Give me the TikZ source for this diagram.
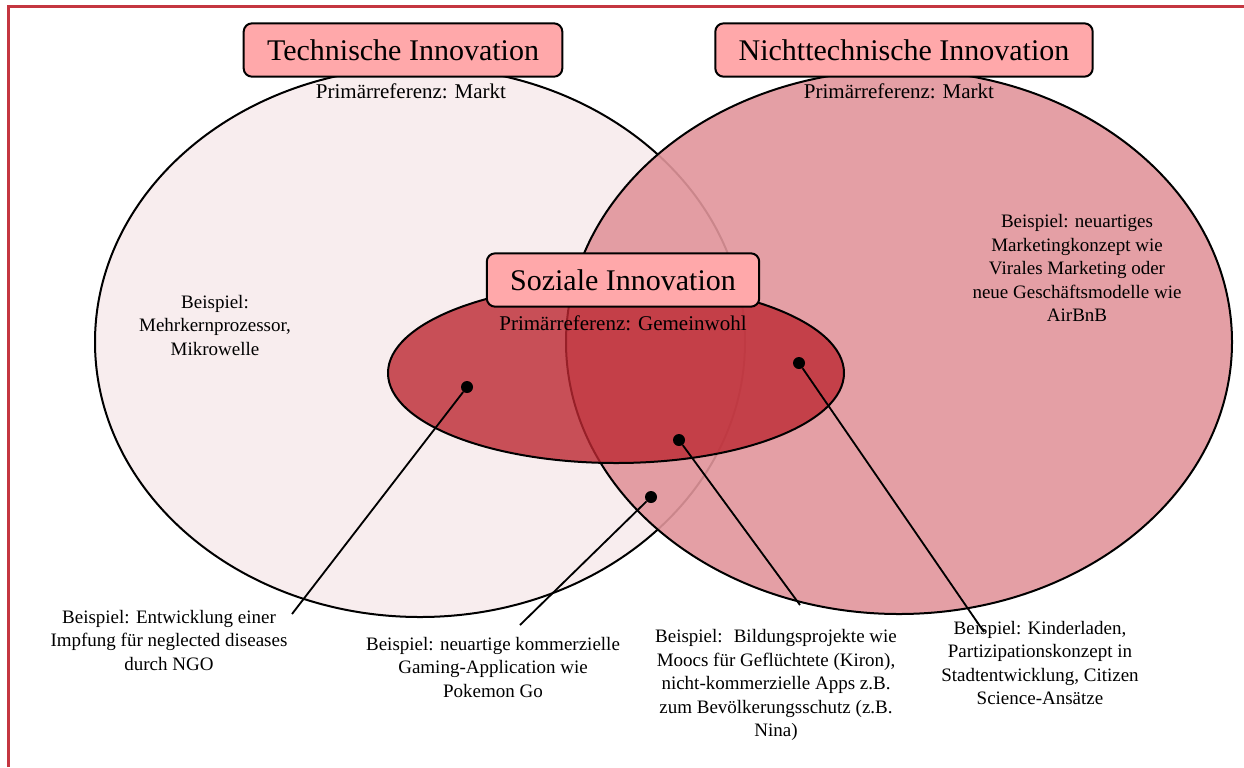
\documentclass[tikz,border=0pt]{standalone}
\usepackage{fontspec}
\setmainfont{Liberation Serif}
\usetikzlibrary{positioning}
\definecolor{framered}{RGB}{196,54,64}
\definecolor{boxpink}{RGB}{255,168,170}
\definecolor{techfill}{RGB}{248,237,238}
\definecolor{nontechfill}{RGB}{225,149,155}
\definecolor{socialfill}{RGB}{189,40,50}

\begin{document}
\begin{tikzpicture}[x=0.6pt, y=-0.6pt,
  titlebox/.style={draw, line width=1.2pt, rounded corners=5pt, fill=boxpink,
    font=\fontsize{18}{20}\selectfont, inner xsep=14pt, minimum height=32pt},
  primref/.style={font=\fontsize{12.6}{14}\selectfont},
  example/.style={align=center, font=\fontsize{11.4}{14.1}\selectfont},
  dot/.style={circle, fill=black, inner sep=0pt, minimum size=7.2pt},
  pointer/.style={line width=1.1pt}]
\useasboundingbox (0,0) rectangle (1244,767);
\draw[framered, line width=1.8pt] (8,767) -- (8,6) -- (1244,6);

% the three fields
\draw[line width=1.2pt, fill=techfill] (420,342) ellipse [x radius=325, y radius=275];
\draw[line width=1.2pt, fill=nontechfill, fill opacity=0.9] (899,342) ellipse [x radius=333, y radius=272];
\draw[line width=1.2pt, fill=socialfill, fill opacity=0.8] (616,373) ellipse [x radius=228, y radius=90];

\node[titlebox] (tech) at (403,50) {Technische Innovation};
\node[titlebox] (nontech) at (904,50) {Nichttechnische Innovation};
\node[titlebox] (social) at (623,280) {Soziale Innovation};

\node[primref] (techref) at (411,91) {Primärreferenz: Markt};
\node[primref] (nontechref) at (899,91) {Primärreferenz: Markt};
\node[primref] (socialref) at (623,323) {Primärreferenz: Gemeinwohl};

\node[example] (techex) at (215,325) {Beispiel:\\ Mehrkernprozessor,\\ Mikrowelle};
\node[example] (nontechex) at (1077,268) {Beispiel: neuartiges\\ Marketingkonzept wie\\ Virales Marketing oder\\ neue Geschäftsmodelle wie\\ AirBnB};

% examples in the overlaps
\node[dot] (vaccdot) at (467,387) {};
\node[dot] (gamedot) at (651,497) {};
\node[dot] (edudot) at (679,440) {};
\node[dot] (kidsdot) at (799,363) {};

\node[example] (vaccex) at (169,640) {Beispiel: Entwicklung einer\\ Impfung für neglected diseases\\ durch NGO};
\node[example] (gameex) at (493,667) {Beispiel: neuartige kommerzielle\\ Gaming-Application wie\\ Pokemon Go};
\node[example] (eduex) at (776,685) {Beispiel:~ Bildungsprojekte wie\\ Moocs für Geflüchtete (Kiron),\\ nicht-kommerzielle Apps z.B.\\ zum Bevölkerungsschutz (z.B.\\ Nina)};
\node[example] (kidsex) at (1040,663) {Beispiel: Kinderladen,\\ Partizipationskonzept in\\ Stadtentwicklung, Citizen\\ Science-Ansätze};

\coordinate (vaccend) at (292,614);
\coordinate (gameend) at (520,625);
\coordinate (eduend) at (800,605);
\coordinate (kidsend) at (984,632);

\draw[pointer] (vaccdot) -- (vaccend);
\draw[pointer] (gamedot) -- (gameend);
\draw[pointer] (edudot) -- (eduend);
\draw[pointer] (kidsdot) -- (kidsend);
\end{tikzpicture}
\end{document}
